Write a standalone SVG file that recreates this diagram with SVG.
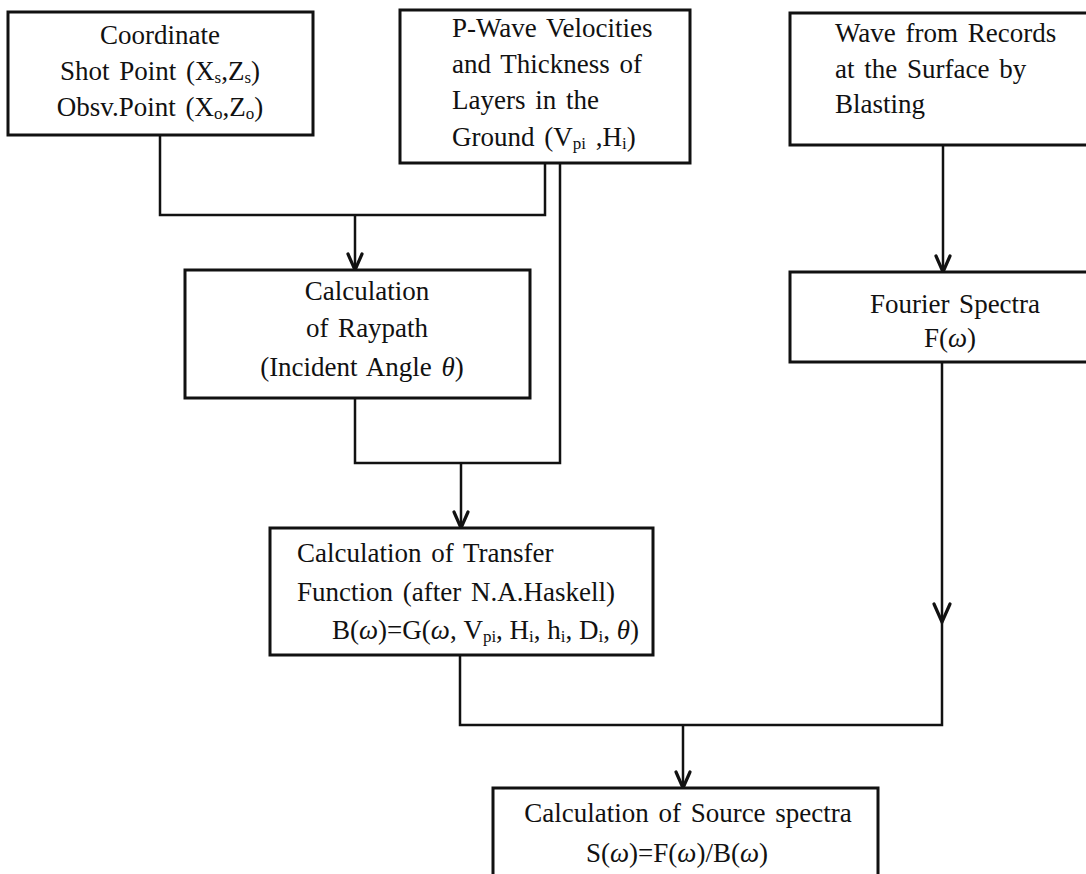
<svg xmlns="http://www.w3.org/2000/svg" width="1086" height="874" viewBox="0 0 1086 874">
<defs>
<style>
.box{fill:#fff;stroke:#111;stroke-width:3}
.con{fill:none;stroke:#111;stroke-width:2.5}
.ah{fill:none;stroke:#111;stroke-width:3.2;stroke-linejoin:miter;stroke-linecap:round}
text{font-family:"Liberation Serif","Times New Roman",serif;font-size:27px;fill:#111;word-spacing:3px}
.m{text-anchor:middle}
.sub{font-size:17px}
.it{font-style:italic}
</style>
</defs>
<rect width="1086" height="874" fill="#fff"/>
<g id="connectors">
<path class="con" d="M160 135 V215 H545 V163"/>
<path class="con" d="M355 215 V270"/>
<path class="ah" d="M348 254 L355 270 L362 254"/>
<path class="con" d="M560 163 V463 H355 V398"/>
<path class="con" d="M461 463 V528"/>
<path class="ah" d="M454 512 L461 528 L468 512"/>
<path class="con" d="M943 145 V272"/>
<path class="ah" d="M936 256 L943 272 L950 256"/>
<path class="con" d="M942 362 V725 H460 V655"/>
<path class="ah" d="M934 604 L942 622 L950 604"/>
<path class="con" d="M683 725 V788"/>
<path class="ah" d="M676 772 L683 788 L690 772"/>
</g>
<g id="coordinate">
<rect class="box" x="8" y="12" width="305" height="123"/>
<text class="m" x="160" y="44">Coordinate</text>
<text class="m" x="160" y="80">Shot Point (X<tspan class="sub" dy="3">s</tspan><tspan dy="-3">,Z</tspan><tspan class="sub" dy="3">s</tspan><tspan dy="-3">)</tspan></text>
<text class="m" x="160" y="116">Obsv.Point (X<tspan class="sub" dy="3">o</tspan><tspan dy="-3">,Z</tspan><tspan class="sub" dy="3">o</tspan><tspan dy="-3">)</tspan></text>
</g>
<g id="pwave">
<rect class="box" x="400" y="10" width="290" height="153"/>
<text x="452" y="37">P-Wave Velocities</text>
<text x="452" y="73">and Thickness of</text>
<text x="452" y="109">Layers in the</text>
<text x="452" y="146">Ground (V<tspan class="sub" dy="3">pi</tspan><tspan dy="-3"> ,H</tspan><tspan class="sub" dy="3">i</tspan><tspan dy="-3">)</tspan></text>
</g>
<g id="wave">
<rect class="box" x="790" y="13" width="330" height="132"/>
<text x="835" y="42">Wave from Records</text>
<text x="835" y="78">at the Surface by</text>
<text x="835" y="113">Blasting</text>
</g>
<g id="raypath">
<rect class="box" x="185" y="270" width="345" height="128"/>
<text class="m" x="367" y="300">Calculation</text>
<text class="m" x="367" y="337">of Raypath</text>
<text class="m" x="362" y="376">(Incident Angle <tspan class="it">θ</tspan>)</text>
</g>
<g id="fourier">
<rect class="box" x="790" y="272" width="330" height="90"/>
<text class="m" x="955" y="313">Fourier Spectra</text>
<text class="m" x="950" y="347">F(<tspan class="it">ω</tspan>)</text>
</g>
<g id="transfer">
<rect class="box" x="270" y="528" width="383" height="127"/>
<text x="297" y="562">Calculation of Transfer</text>
<text x="297" y="601">Function (after N.A.Haskell)</text>
<text x="332" y="639" style="word-spacing:0">B(<tspan class="it">ω</tspan>)=G(<tspan class="it">ω</tspan>, V<tspan class="sub" dy="3">pi</tspan><tspan dy="-3">, H</tspan><tspan class="sub" dy="3">i</tspan><tspan dy="-3">, h</tspan><tspan class="sub" dy="3">i</tspan><tspan dy="-3">, D</tspan><tspan class="sub" dy="3">i</tspan><tspan dy="-3">, </tspan><tspan class="it">θ</tspan>)</text>
</g>
<g id="source">
<rect class="box" x="493" y="788" width="385" height="100"/>
<text class="m" x="688" y="822">Calculation of Source spectra</text>
<text class="m" x="677" y="862">S(<tspan class="it">ω</tspan>)=F(<tspan class="it">ω</tspan>)/B(<tspan class="it">ω</tspan>)</text>
</g>
</svg>
